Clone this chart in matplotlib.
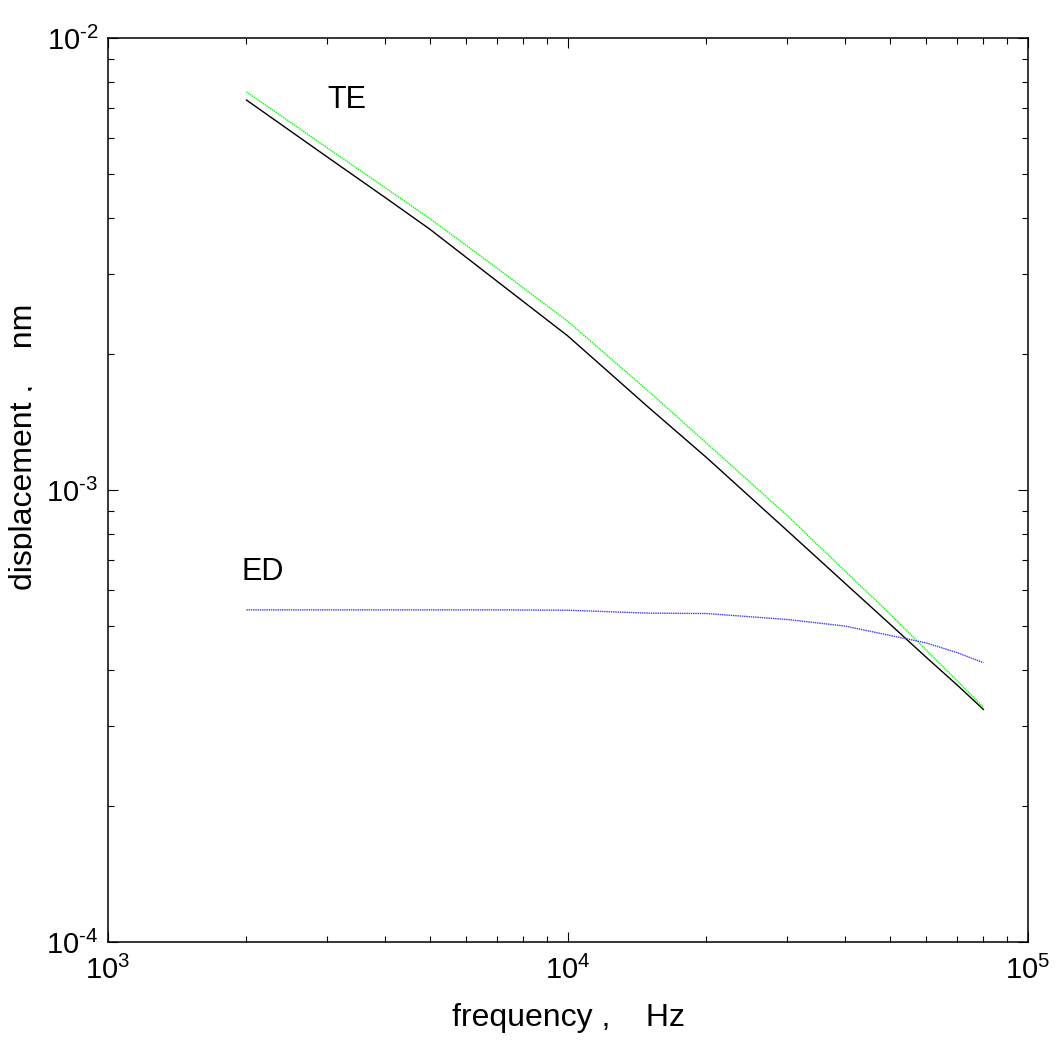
import matplotlib
matplotlib.use("Agg")
import matplotlib.pyplot as plt
from matplotlib.ticker import LogLocator, NullFormatter, FuncFormatter
from matplotlib.transforms import Bbox, TransformedBbox
import math

plt.rcParams['font.family'] = ['Liberation Sans', 'DejaVu Sans']
plt.rcParams['mathtext.fontset'] = 'custom'
plt.rcParams['mathtext.rm'] = 'Liberation Sans'
plt.rcParams['mathtext.it'] = 'Liberation Sans:italic'
plt.rcParams['mathtext.bf'] = 'Liberation Sans:bold'

# frequency grid (Hz) and displacement amplitudes (nm)
frequency_hz = [2000, 3000, 4000, 5000, 7000, 10000, 15000, 20000,
                30000, 40000, 50000, 60000, 70000, 80000]
te_exact = [7.29e-3, 5.45e-3, 4.44e-3, 3.78e-3, 2.90e-3, 2.19e-3, 1.52e-3,
            1.18e-3, 8.12e-4, 6.22e-4, 5.06e-4, 4.27e-4, 3.71e-4, 3.27e-4]
te_approx = [7.60e-3, 5.71e-3, 4.67e-3, 3.99e-3, 3.10e-3, 2.36e-3, 1.65e-3,
             1.27e-3, 8.77e-4, 6.62e-4, 5.33e-4, 4.43e-4, 3.79e-4, 3.31e-4]
ed_disp = [5.43e-4, 5.43e-4, 5.43e-4, 5.43e-4, 5.43e-4, 5.42e-4, 5.34e-4,
           5.33e-4, 5.17e-4, 5.00e-4, 4.77e-4, 4.59e-4, 4.37e-4, 4.15e-4]

x_limits = (1e3, 1e5)
y_limits = (1e-4, 1e-2)

W, H = 1056, 1046
fig = plt.figure(figsize=(W / 100, H / 100), dpi=100)
ax = fig.add_axes([108 / W, 1 - 942 / H, 920 / W, 904 / H])

ax.loglog(frequency_hz, te_exact, color='black', lw=1.0)
ax.loglog(frequency_hz, te_approx, color='#00ff00', lw=1.0, ls=(0, (1, 0.6)))
ax.loglog(frequency_hz, ed_disp, color='#3a3aff', lw=1.0, ls=(0, (1, 0.6)))

ax.set_xlim(*x_limits)
ax.set_ylim(*y_limits)


def decade_label(v, pos):
    e = int(round(math.log10(v)))
    return r'$10^{\text{%d}}$' % e


for a in (ax.xaxis, ax.yaxis):
    a.set_major_locator(LogLocator(base=10, numticks=10))
    a.set_minor_locator(LogLocator(base=10, subs=range(2, 10), numticks=20))
    a.set_major_formatter(FuncFormatter(decade_label))
    a.set_minor_formatter(NullFormatter())

ax.tick_params(which='both', direction='in', top=True, right=True,
               labelsize=21, width=0.8)
ax.tick_params(which='major', length=7)
ax.tick_params(which='minor', length=4)
ax.tick_params(axis='x', which='major', pad=10)
ax.tick_params(axis='y', which='major', pad=7)
for s in ax.spines.values():
    s.set_linewidth(1.1)

ax.text(3000, 7.31e-3, 'TE', fontsize=22, ha='left', va='center')
ax.text(1950, 6.59e-4, 'ED', fontsize=22, ha='left', va='center')

ax.set_xlabel('frequency ,    Hz', fontsize=23, labelpad=13)

ylab = fig.text(32 / W, 1 - 447 / H, 'displacement ,    nm', rotation=90,
                rotation_mode='anchor', ha='center', va='baseline',
                fontsize=23)
ylab.set_clip_box(TransformedBbox(Bbox([[0, 0], [32 / W, 1]]),
                                  fig.transFigure))
ylab.set_clip_on(True)

fig.savefig('out.png', dpi=100)
